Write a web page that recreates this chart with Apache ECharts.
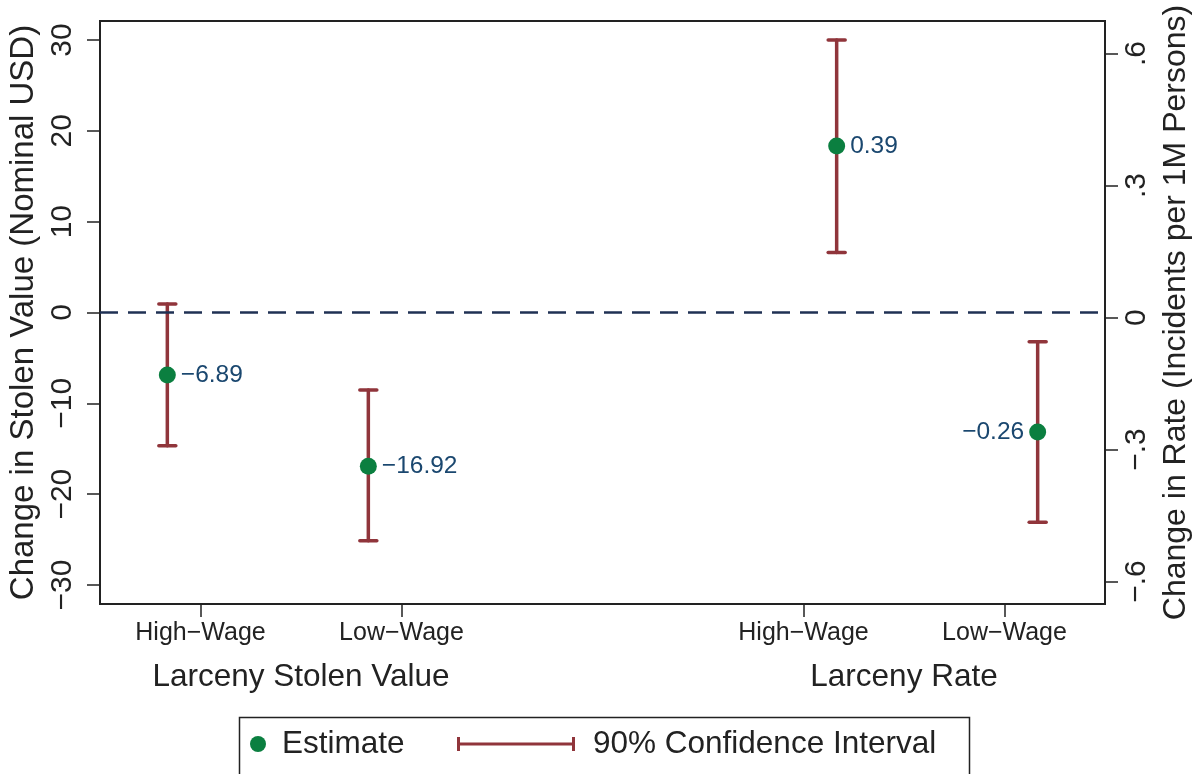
<!DOCTYPE html>
<html>
<head>
<meta charset="utf-8">
<script src="https://cdn.jsdelivr.net/npm/echarts@6/dist/echarts.min.js"></script>
<style>
html,body{margin:0;padding:0;background:#fff;}
#chart{width:1195px;height:774px;}
</style>
</head>
<body>
<div id="chart"></div>
<script>
// ---------- data ----------
const categories = ['High\u2212Wage', 'Low\u2212Wage', 'High\u2212Wage', 'Low\u2212Wage'];
const categoryPos = [1, 2, 4, 5];
const groups = ['Larceny Stolen Value', 'Larceny Rate'];
const groupPos = [1.5, 4.5];

const stolenEst = [-6.89, -16.92];
const stolenLo  = [-14.66, -25.12];
const stolenHi  = [0.94, -8.53];

const rateEst = [0.39, -0.26];
const rateLo  = [0.148, -0.465];
const rateHi  = [0.631, -0.055];

const leftTicks  = [-30, -20, -10, 0, 10, 20, 30];
const rightTicks = [-0.6, -0.3, 0, 0.3, 0.6];

// ---------- style ----------
const FONT = "'Liberation Sans', Arial, sans-serif";
const GREEN = '#0b7f40';
const RED = '#90353b';
const NAVY = '#1a476f';
const DASH = '#1f3154';
const INK = '#222222';
const OFFSET = 0.165;

const minus = s => s.replace('-', '\u2212');
const fmtVal = v => minus(v.toFixed(2));
const fmtRight = v => {
  if (v === 0) return '0';
  const s = Math.abs(v).toString().replace(/^0/, '');
  return (v < 0 ? '\u2212' : '') + s;
};

const stolenPts = stolenEst.map((v, i) => [categoryPos[i] - OFFSET, v]);
const stolenCI  = stolenEst.map((v, i) => [categoryPos[i] - OFFSET, stolenLo[i], stolenHi[i]]);
const ratePts = rateEst.map((v, i) => ({
  value: [categoryPos[i + 2] + OFFSET, v],
  label: { position: i === 1 ? 'left' : 'right' }
}));
const rateCI  = rateEst.map((v, i) => [categoryPos[i + 2] + OFFSET, rateLo[i], rateHi[i]]);

function ciRender(params, api) {
  const x = api.value(0);
  const a = api.coord([x, api.value(1)]);
  const b = api.coord([x, api.value(2)]);
  const hw = 8.5;
  const st = { stroke: RED, lineWidth: 3.5, lineCap: 'round' };
  return {
    type: 'group',
    children: [
      { type: 'line', shape: { x1: a[0], y1: a[1], x2: b[0], y2: b[1] }, style: st },
      { type: 'line', shape: { x1: a[0] - hw, y1: a[1], x2: a[0] + hw, y2: a[1] }, style: st },
      { type: 'line', shape: { x1: b[0] - hw, y1: b[1], x2: b[0] + hw, y2: b[1] }, style: st }
    ]
  };
}

const axisLineStyle = { color: INK, width: 2 };

const option = {
  animation: false,
  backgroundColor: '#ffffff',
  textStyle: { fontFamily: FONT, color: INK },
  grid: {
    left: 100, right: 90, top: 21, bottom: 170,
    outerBoundsMode: 'none', containLabel: false,
    show: true, borderColor: INK, borderWidth: 2, backgroundColor: 'transparent'
  },
  xAxis: [
    {
      type: 'value', min: 0.5, max: 5.5, position: 'bottom',
      axisLine: { show: true, onZero: false, lineStyle: axisLineStyle },
      axisTick: { show: true, length: 13, lineStyle: { color: INK, width: 1.5 }, customValues: categoryPos },
      axisLabel: {
        customValues: categoryPos, margin: 17, fontSize: 25, color: INK, fontFamily: FONT,
        formatter: v => categories[categoryPos.indexOf(v)]
      },
      splitLine: { show: false }
    },
    {
      type: 'value', min: 0.5, max: 5.5, position: 'bottom', offset: 0,
      axisLine: { show: false }, axisTick: { show: false },
      axisLabel: {
        customValues: groupPos, margin: 57, fontSize: 31.5, color: INK, fontFamily: FONT,
        formatter: v => groups[groupPos.indexOf(v)]
      },
      splitLine: { show: false }
    }
  ],
  yAxis: [
    {
      type: 'value', min: -32.09, max: 32.09, position: 'left',
      name: 'Change in Stolen Value (Nominal USD)', nameLocation: 'middle', nameRotate: 90, nameGap: 54,
      nameTextStyle: { fontSize: 33, color: INK, fontFamily: FONT },
      axisLine: { show: true, onZero: false, lineStyle: axisLineStyle },
      axisTick: { show: true, length: 13, lineStyle: { color: INK, width: 1.5 }, customValues: leftTicks },
      axisLabel: {
        customValues: leftTicks, rotate: 90, margin: 22, fontSize: 30, color: INK, fontFamily: FONT,
        formatter: v => minus(String(v))
      },
      splitLine: { show: false }
    },
    {
      type: 'value', min: -0.651, max: 0.674, position: 'right',
      name: 'Change in Rate (Incidents per 1M Persons)', nameLocation: 'middle', nameRotate: 90, nameGap: 53,
      nameTextStyle: { fontSize: 32, color: INK, fontFamily: FONT },
      axisLine: { show: true, onZero: false, lineStyle: axisLineStyle },
      axisTick: { show: true, length: 13, lineStyle: { color: INK, width: 1.5 }, customValues: rightTicks },
      axisLabel: {
        customValues: rightTicks, rotate: 90, margin: 17, fontSize: 30, color: INK, fontFamily: FONT,
        formatter: v => fmtRight(v)
      },
      splitLine: { show: false }
    }
  ],
  legend: [
    {
      left: 250, top: 728, padding: 0, selectedMode: false,
      itemWidth: 16, itemHeight: 16,
      textStyle: { fontSize: 31.5, color: INK, fontFamily: FONT, padding: [0, 0, 0, 11] },
      data: [{ name: 'Estimate', icon: 'circle', itemStyle: { color: GREEN } }]
    },
    {
      left: 457, top: 728, padding: 0, selectedMode: false,
      itemWidth: 118, itemHeight: 14,
      textStyle: { fontSize: 31.5, color: INK, fontFamily: FONT, padding: [0, 0, 0, 13] },
      data: [{
        name: '90% Confidence Interval',
        icon: 'path://M0,0h3v14h-3z M0,5.5h118v3h-118z M115,0h3v14h-3z',
        itemStyle: { color: RED }
      }]
    }
  ],
  graphic: [
    {
      type: 'rect', left: 237, top: 715, silent: true,
      shape: { width: 730, height: 70 },
      style: { fill: 'none', stroke: INK, lineWidth: 1.5 }
    }
  ],
  series: [
    {
      name: '90% Confidence Interval', type: 'custom', xAxisIndex: 0, yAxisIndex: 0,
      itemStyle: { color: RED }, renderItem: ciRender, data: stolenCI, z: 2,
      encode: { x: 0, y: [1, 2] }
    },
    {
      name: '90% Confidence Interval', type: 'custom', xAxisIndex: 0, yAxisIndex: 1,
      itemStyle: { color: RED }, renderItem: ciRender, data: rateCI, z: 2,
      encode: { x: 0, y: [1, 2] }
    },
    {
      name: 'Estimate', type: 'scatter', xAxisIndex: 0, yAxisIndex: 0,
      symbolSize: 17, itemStyle: { color: GREEN, opacity: 1 }, z: 3,
      label: {
        show: true, position: 'right', distance: 5, fontSize: 24.5, color: NAVY, fontFamily: FONT,
        formatter: p => fmtVal(p.value[1])
      },
      data: stolenPts,
      markLine: {
        silent: true, symbol: ['none', 'none'], label: { show: false },
        lineStyle: { color: DASH, width: 2.5, type: [18, 10] },
        data: [{ yAxis: 0 }]
      }
    },
    {
      name: 'Estimate', type: 'scatter', xAxisIndex: 0, yAxisIndex: 1,
      symbolSize: 17, itemStyle: { color: GREEN, opacity: 1 }, z: 3,
      label: {
        show: true, position: 'right', distance: 5, fontSize: 24.5, color: NAVY, fontFamily: FONT,
        formatter: p => fmtVal(p.value[1])
      },
      data: ratePts
    }
  ]
};

const chart = echarts.init(document.getElementById('chart'), null, { renderer: 'canvas' });
chart.setOption(option);
</script>
</body>
</html>
